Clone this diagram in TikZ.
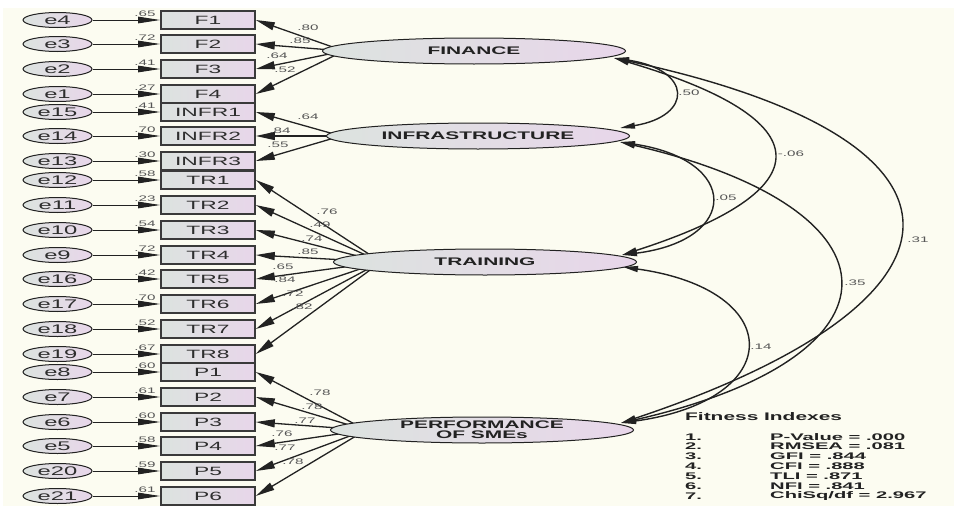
\documentclass[tikz,border=0pt]{standalone}
\usepackage{fontspec}
\setmainfont{Liberation Sans}
\usepackage{graphicx}
\usetikzlibrary{shapes.geometric,arrows.meta,calc}

\definecolor{paper}{HTML}{FCFCF1}
\definecolor{shadeL}{HTML}{DCE3DF}
\definecolor{shadeR}{HTML}{E8D6EA}
\definecolor{boxline}{HTML}{3A3A3A}
\definecolor{linec}{HTML}{222222}
\definecolor{labtext}{HTML}{2E2E2E}
\definecolor{numtext}{HTML}{555555}

% widened lettering used throughout the path diagram
\newcommand\sx[1]{\scalebox{1.9}[1]{#1}}
\newcommand\sxx[1]{\scalebox{2.1}[1]{#1}}

\pgfdeclarelayer{bgl}
\pgfdeclarelayer{edges}
\pgfsetlayers{bgl,edges,main}

\tikzset{
  obsbox/.style={rectangle, draw=boxline, line width=1.6pt,
    minimum width=94pt, minimum height=18pt, inner sep=0pt,
    left color=shadeL, right color=shadeR,
    font=\fontsize{12}{12}\selectfont, text=labtext},
  errell/.style={ellipse, draw=linec, line width=1pt,
    minimum width=69pt, minimum height=15pt, inner sep=0pt,
    left color=shadeL, right color=shadeR,
    font=\fontsize{12.5}{12.5}\selectfont, text=labtext},
  latent/.style={ellipse, draw=linec, line width=1pt,
    minimum width=303pt, minimum height=26pt, inner sep=0pt,
    left color=shadeL, right color=shadeR, align=center,
    font=\bfseries\fontsize{11}{10}\selectfont, text=linec},
  num/.style={inner sep=0pt, font=\fontsize{8}{8}\selectfont, text=numtext},
  fitlab/.style={inner sep=0pt, anchor=west, text=linec,
    font=\bfseries\fontsize{9.6}{9.6}\selectfont},
  errarrow/.style={draw=linec, line width=0.9pt,
    -{Triangle[length=22pt,width=6.5pt]}},
  load/.style={draw=linec, line width=1.3pt,
    -{Triangle[length=19pt,width=8pt]}},
  cov/.style={draw=linec, line width=1.4pt,
    {Triangle[length=15pt,width=6pt]}-{Triangle[length=15pt,width=6pt]}}
}

\begin{document}
\begin{tikzpicture}[x=1pt,y=-1pt]
\useasboundingbox (0,0) rectangle (954,506);
\begin{pgfonlayer}{bgl}
  \fill[white] (0,0) rectangle (954,506);
  \fill[paper] (3,8) rectangle (954,506);
\end{pgfonlayer}

% observed indicators, their error terms and squared multiple correlations
\foreach \n/\lab/\y/\e/\rr in {
  f1/F1/20/e4/.65, f2/F2/44/e3/.72, f3/F3/69/e2/.41, f4/F4/94/e1/.27,
  i1/INFR1/112/e15/.41, i2/INFR2/136/e14/.70, i3/INFR3/161/e13/.30,
  t1/TR1/180/e12/.58, t2/TR2/205/e11/.23, t3/TR3/230/e10/.54,
  t4/TR4/255/e9/.72, t5/TR5/279/e16/.42, t6/TR6/304/e17/.70,
  t7/TR7/329/e18/.52, t8/TR8/354/e19/.67,
  p1/P1/372/e8/.60, p2/P2/397/e7/.61, p3/P3/422/e6/.60,
  p4/P4/446/e5/.58, p5/P5/471/e20/.59, p6/P6/496/e21/.61}
{
  \node[obsbox] (\n) at (208,\y) {\sx{\lab}};
  \node[errell] (\e) at (57.5,\y) {\sx{\e}};
  \node[num] (r\n) at (145,\y-6.5) {\sx{\rr}};
  \begin{pgfonlayer}{edges}
    \draw[errarrow] (\e.east) -- (\n.west);
  \end{pgfonlayer}
}

% latent constructs
\node[latent] (fin)  at (474,51)  {\sx{FINANCE}};
\node[latent] (infr) at (478,136) {\sx{INFRASTRUCTURE}};
\node[latent] (tr)   at (485,262) {\sx{TRAINING}};
\node[latent] (perf) at (482,430) {\sx{PERFORMANCE}\\\sx{OF SMEs}};

% points inside each construct where its loadings meet
\coordinate (finc)  at ($(fin.west)+(22,0)$);
\coordinate (infrc) at ($(infr.west)+(15,0)$);
\coordinate (trc)   at ($(tr.west)+(48,0)$);
\coordinate (perfc) at ($(perf.west)+(36,0)$);

% ends of the covariance arcs
\coordinate (finA)  at ($(fin.east)+(-12,7)$);
\coordinate (infrA) at ($(infr.east)+(-10,-8)$);
\coordinate (infrB) at ($(infr.east)+(-10,6)$);
\coordinate (trA)   at ($(tr.east)+(-15,-7)$);
\coordinate (trB)   at ($(tr.east)+(-14,5)$);
\coordinate (perfA) at ($(perf.east)+(-13,-7)$);

\begin{pgfonlayer}{edges}
  \foreach \s/\d in {finc/f1, finc/f2, finc/f3, finc/f4,
    infrc/i1, infrc/i2, infrc/i3,
    trc/t1, trc/t2, trc/t3, trc/t4, trc/t5, trc/t6, trc/t7, trc/t8,
    perfc/p1, perfc/p2, perfc/p3, perfc/p4, perfc/p5, perfc/p6}
    \draw[load] (\s) -- (\d.east);

  \draw[cov] (finA)  .. controls (693,70)  and (693,116) .. (infrA);
  \draw[cov] (finA)  .. controls (824,120) and (824,190) .. (trA);
  \draw[cov] (finA)  .. controls (997,140) and (990,300) .. (perfA);
  \draw[cov] (infrB) .. controls (740,160) and (740,240) .. (trA);
  \draw[cov] (infrB) .. controls (911,210) and (911,357) .. (perfA);
  \draw[cov] (trB)   .. controls (787,290) and (787,400) .. (perfA);
\end{pgfonlayer}

% standardized loadings
\foreach \k/\v/\x/\y in {
  a1/.80/308/28, a2/.85/300/41, a3/.64/277/56, a4/.52/285/70,
  b1/.64/308/117, b2/.84/280/131, b3/.55/278/145,
  c1/.76/327/212, c2/.49/320/225, c3/.74/312/239, c4/.85/308/252,
  c5/.65/283/267, c6/.84/285/280, c7/.72/293/294, c8/.82/302/307,
  d1/.78/320/393, d2/.78/312/407, d3/.77/305/421, d4/.76/282/434,
  d5/.77/285/448, d6/.78/293/462}
  \node[num] (\k) at (\x,\y) {\sx{\v}};

% correlations between constructs
\foreach \k/\v/\x/\y in {
  k1/.50/689/93, k2/-.06/791/154, k3/.05/726/198,
  k4/.35/855/283, k5/.31/918/240, k6/.14/761/347}
  \node[num] (\k) at (\x,\y) {\sx{\v}};

% model fit summary
\node[fitlab, font=\bfseries\fontsize{11}{11}\selectfont] (fith) at (685,417) {\sx{Fitness Indexes}};
\foreach \k/\i/\t/\y in {
  g1/1./{P-Value = .000}/437, g2/2./{RMSEA = .081}/446,
  g3/3./{GFI = .844}/456, g4/4./{CFI = .888}/466,
  g5/5./{TLI = .871}/476, g6/6./{NFI = .841}/486,
  g7/7./{ChiSq/df = 2.967}/496}
{
  \node[fitlab] (\k n) at (685,\y) {\sxx{\i}};
  \node[fitlab] (\k v) at (770,\y) {\sxx{\t}};
}
\end{tikzpicture}
\end{document}
